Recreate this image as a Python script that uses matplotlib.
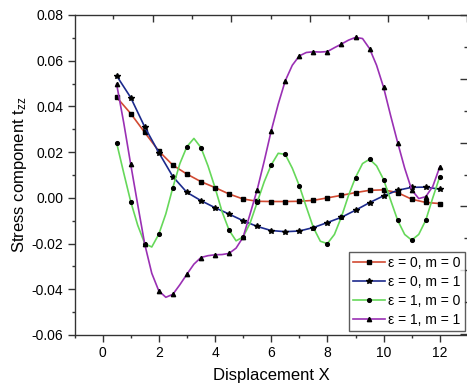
import matplotlib
matplotlib.use('Agg')
import matplotlib.pyplot as plt
from matplotlib.ticker import MultipleLocator, NullFormatter
import numpy as np

plt.rcParams['font.family'] = ['Liberation Sans', 'DejaVu Sans']
plt.rcParams['mathtext.default'] = 'regular'

# red and blue curves: read every 0.5
x_half = [0.5, 1.0, 1.5, 2.0, 2.5, 3.0, 3.5, 4.0, 4.5, 5.0, 5.5, 6.0,
          6.5, 7.0, 7.5, 8.0, 8.5, 9.0, 9.5, 10.0, 10.5, 11.0, 11.5, 12.0]
red_vals = [0.0440, 0.0369, 0.0286, 0.0205, 0.0143, 0.0104, 0.0071, 0.0045,
            0.0017, -0.0005, -0.0015, -0.0016, -0.0016, -0.0015, -0.0011, 0.0000,
            0.0011, 0.0023, 0.0033, 0.0035, 0.0023, -0.0006, -0.0020, -0.0025]
blue_vals = [0.0534, 0.0439, 0.0310, 0.0198, 0.0093, 0.0024, -0.0012, -0.0043,
             -0.0071, -0.0100, -0.0125, -0.0143, -0.0148, -0.0145, -0.0130, -0.0108,
             -0.0085, -0.0054, -0.0021, 0.0009, 0.0033, 0.0046, 0.0047, 0.0038]

# green and purple curves: read every 0.25 (markers on every second point)
x_quarter = [0.5, 0.75, 1.0, 1.25, 1.5, 1.75, 2.0, 2.25, 2.5, 2.75, 3.0, 3.25,
             3.5, 3.75, 4.0, 4.25, 4.5, 4.75, 5.0, 5.25, 5.5, 5.75, 6.0, 6.25,
             6.5, 6.75, 7.0, 7.25, 7.5, 7.75, 8.0, 8.25, 8.5, 8.75, 9.0, 9.25,
             9.5, 9.75, 10.0, 10.25, 10.5, 10.75, 11.0, 11.25, 11.5, 11.75, 12.0]
green_vals = [0.0240, 0.0110, -0.0016, -0.0120, -0.0200, -0.0215, -0.0159, -0.0070,
              0.0045, 0.0150, 0.0224, 0.0260, 0.0220, 0.0140, 0.0045, -0.0060,
              -0.0141, -0.0188, -0.0171, -0.0110, -0.0020, 0.0070, 0.0144, 0.0195,
              0.0190, 0.0130, 0.0053, -0.0040, -0.0130, -0.0190, -0.0200, -0.0160,
              -0.0083, 0.0010, 0.0089, 0.0150, 0.0169, 0.0140, 0.0080, -0.0010,
              -0.0098, -0.0160, -0.0185, -0.0160, -0.0098, 0.0000, 0.0093]
purple_vals = [0.0497, 0.0330, 0.0147, -0.0030, -0.0203, -0.0330, -0.0407, -0.0435,
               -0.0422, -0.0380, -0.0334, -0.0290, -0.0261, -0.0253, -0.0249, -0.0248,
               -0.0243, -0.0220, -0.0172, -0.0070, 0.0035, 0.0160, 0.0293, 0.0410,
               0.0512, 0.0580, 0.0621, 0.0636, 0.0639, 0.0638, 0.0640, 0.0657,
               0.0673, 0.0690, 0.0702, 0.0697, 0.0653, 0.0580, 0.0483, 0.0360,
               0.0242, 0.0130, 0.0035, -0.0003, 0.0005, 0.0050, 0.0136]

labels = ['\u03b5 = 0, m = 0', '\u03b5 = 0, m = 1', '\u03b5 = 1, m = 0', '\u03b5 = 1, m = 1']

fig = plt.figure(figsize=(4.67, 3.85), dpi=100)
ax = fig.add_axes([74.5/467, 50/385, 393.4/467, 320/385])

ax.plot(x_half, red_vals, color='#d24a32', lw=1.2, marker='s', ms=2.6,
        mfc='black', mec='black', label=labels[0])
ax.plot(x_half, blue_vals, color='#1c2a8c', lw=1.2, marker='*', ms=3.8,
        mfc='black', mec='black', label=labels[1])
ax.plot(x_quarter, green_vals, color='#66d85a', lw=1.2, marker='o', ms=2.7,
        mfc='black', mec='black', markevery=2, label=labels[2])
ax.plot(x_quarter, purple_vals, color='#9a30b4', lw=1.2, marker='^', ms=3.1,
        mfc='black', mec='black', markevery=2, label=labels[3])

ax.set_xlim(-1, 13)
ax.set_ylim(-0.06, 0.08)
ax.xaxis.set_major_locator(MultipleLocator(2))
ax.xaxis.set_minor_locator(MultipleLocator(1))
ax.yaxis.set_major_locator(MultipleLocator(0.02))
ax.yaxis.set_minor_locator(MultipleLocator(0.01))
ax.yaxis.set_major_formatter(plt.FuncFormatter(lambda v, p: f'{v:.2f}'))
ax.tick_params(which='major', direction='out', length=5, width=1, labelsize=10, pad=3,
               top=False, right=False, color='#333333')
ax.tick_params(which='minor', direction='out', length=2.5, width=1, top=False, right=False,
               color='#333333')
for s in ax.spines.values():
    s.set_color('#333333')

ax.set_xlabel('Displacement X', fontsize=12, labelpad=6)
ax.set_ylabel('Stress component t$_{zz}$', fontsize=12, labelpad=2)

# odd secondary ticks on top and right edges
top = ax.twiny()
top.set_xlim(-1.985, 8.02)
top.xaxis.set_major_locator(MultipleLocator(2))
top.xaxis.set_minor_locator(MultipleLocator(1))
top.xaxis.set_major_formatter(NullFormatter())
top.tick_params(which='major', direction='in', length=5, width=1, color='#333333')
top.tick_params(which='minor', direction='in', length=3, width=1, color='#333333')

right = ax.twinx()
right.set_ylim(-8.04, 2.01)
right.yaxis.set_major_locator(MultipleLocator(2))
right.yaxis.set_minor_locator(MultipleLocator(1))
right.yaxis.set_major_formatter(NullFormatter())
right.tick_params(which='major', direction='in', length=6, width=1, color='#333333')
right.tick_params(which='minor', direction='in', length=3, width=1, color='#333333')
for a in (top, right):
    a.set_zorder(0)
ax.set_zorder(2)
ax.patch.set_visible(False)

leg = ax.legend(loc='upper left', bbox_to_anchor=(349/467, 1 - 252/385),
                bbox_transform=fig.transFigure, fontsize=10, frameon=True,
                fancybox=False, borderpad=0.3, handlelength=2.3, handletextpad=0.2,
                labelspacing=0.35, borderaxespad=0)
leg.get_frame().set_edgecolor('#333333')
leg.get_frame().set_linewidth(1)

fig.savefig('out.png', dpi=100)
